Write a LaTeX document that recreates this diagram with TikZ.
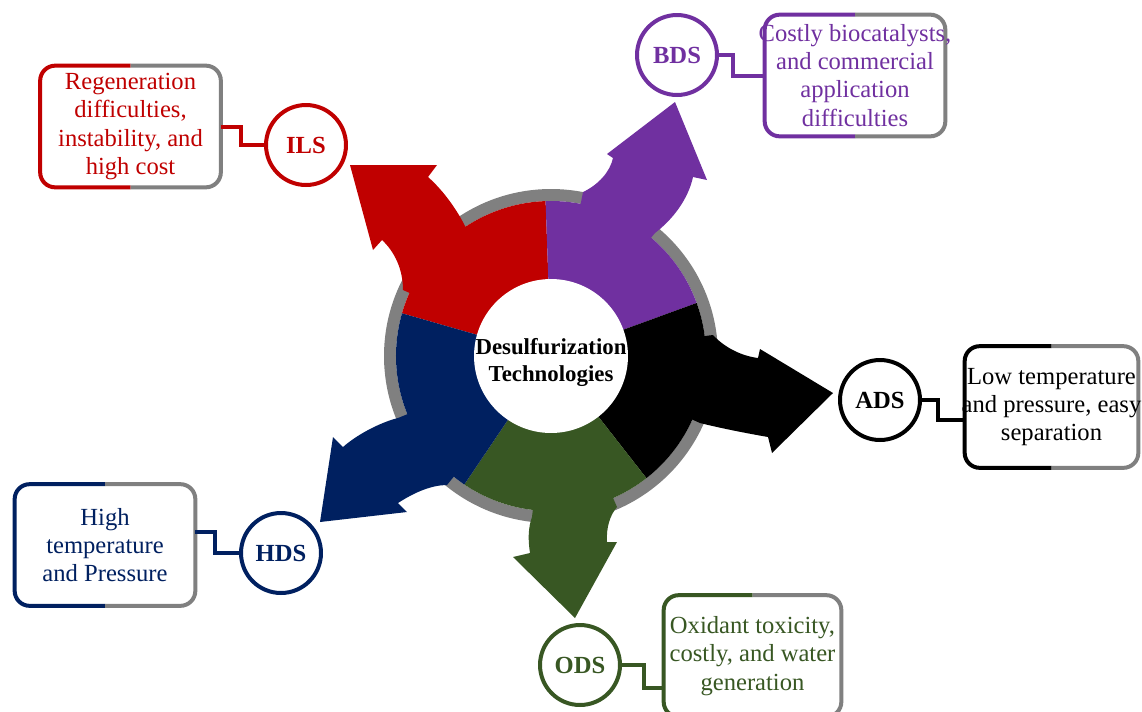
\documentclass[tikz,border=0pt]{standalone}
\usepackage{fontspec}
\setmainfont{Liberation Serif}

\definecolor{ilsred}{RGB}{192,0,0}
\definecolor{bdspurple}{RGB}{112,48,160}
\definecolor{adsblack}{RGB}{0,0,0}
\definecolor{odsgreen}{RGB}{56,87,35}
\definecolor{hdsnavy}{RGB}{0,32,96}
\definecolor{ringgray}{RGB}{128,128,128}

% two coloured halves of a note box
\newcommand{\notebox}[2]{%
  \draw[line width=0.08cm, rounded corners=0.3cm, #2] (#1.north) -- (#1.north west) -- (#1.south west) -- (#1.south);
  \draw[line width=0.08cm, rounded corners=0.3cm, ringgray] (#1.north) -- (#1.north east) -- (#1.south east) -- (#1.south);}

\begin{document}
\begin{tikzpicture}[x=0.02cm, y=0.02cm,
    tech/.style={circle, draw=#1, line width=0.08cm, fill=white, text=#1, minimum size=1.6cm, inner sep=0pt, font=\fontsize{14}{16}\selectfont\bfseries},
    note/.style={fill=white, minimum width=3.6cm, minimum height=2.42cm, inner sep=0pt},
    notetext/.style={text=#1, align=center, inner sep=0pt, font=\fontsize{14}{16}\selectfont},
    link/.style={draw=#1, line width=0.08cm},
    hub/.style={circle, fill=white, minimum size=3.08cm, inner sep=0pt},
    hubtext/.style={align=center, inner sep=0pt, font=\fontsize{13}{15.5}\selectfont\bfseries}]

        \clip (0,0) rectangle (1142,-711);
        \coordinate (C) at (551,-356);

        % Ring
        \draw[ringgray, line width=0.24cm] (C) circle[radius=161];
        \foreach \a/\col in {92/ilsred, 20/bdspurple, -52/adsblack, -124/odsgreen, 164/hdsnavy}
            \fill[\col] (C) -- ++(\a:155) arc[start angle=\a, end angle=\a+72, radius=155] -- cycle;

        % Arrows
        \fill[ilsred] (C) -- (465,-226) .. controls (458,-212) and (445,-192) .. (428,-177) -- (437,-165) -- (350,-165)
            -- (373,-250) -- (382,-240) .. controls (395,-252) and (403,-270) .. (403,-290) -- cycle;
        \fill[bdspurple] (C) -- (583,-192) .. controls (598,-185) and (610,-172) .. (613,-158) -- (607,-154) -- (675,-102)
            -- (707,-180) -- (693,-177) .. controls (688,-200) and (672,-220) .. (655,-233) -- cycle;
        \fill[adsblack] (C) -- (713,-335) .. controls (725,-348) and (742,-356) .. (758,-358) -- (760,-349) -- (833,-393)
            -- (772,-453) -- (768,-437) .. controls (745,-433) and (720,-428) .. (700,-423) -- cycle;
        \fill[odsgreen] (C) -- (617,-507) .. controls (610,-515) and (606,-528) .. (607,-542) -- (617,-542) -- (575,-618)
            -- (513,-557) -- (530,-553) .. controls (528,-540) and (528,-528) .. (532,-517) -- cycle;
        \fill[hdsnavy] (C) -- (398,-418) .. controls (385,-421) and (360,-432) .. (343,-447) -- (333,-437) -- (320,-522)
            -- (407,-512) -- (398,-503) .. controls (415,-492) and (432,-485) .. (447,-485) -- cycle;

        % Hub
        \node[hub] (hub) at (C) {};
        \node[hubtext] (hubtext) at ([yshift=-0.13cm]hub) {Desulfurization\\Technologies};

        % ILS
        \node[tech=ilsred] (ils) at (306,-145) {ILS};
        \node[note] (ilsbox) at (130.5,-126.5) {};
        \notebox{ilsbox}{ilsred}
        \node[notetext=ilsred] (ilstext) at (ilsbox) {Regeneration\\difficulties,\\instability, and\\high cost};
        \draw[link=ilsred] (ilsbox.east) -- ++(20,0) |- (ils.west);

        % BDS
        \node[tech=bdspurple] (bds) at (677,-55) {BDS};
        \node[note] (bdsbox) at (855,-75.5) {};
        \notebox{bdsbox}{bdspurple}
        \node[notetext=bdspurple] (bdstext) at (bdsbox) {Costly biocatalysts,\\and commercial\\application\\difficulties};
        \draw[link=bdspurple] (bds.east) -- ++(14,0) |- (bdsbox.west);

        % ADS
        \node[tech=adsblack] (ads) at (880,-400) {ADS};
        \node[note, minimum width=3.46cm] (adsbox) at (1051.5,-407) {};
        \notebox{adsbox}{adsblack}
        \node[notetext=adsblack] (adstext) at (adsbox) {Low temperature\\and pressure, easy\\separation};
        \draw[link=adsblack] (ads.east) -- ++(16,0) |- ([yshift=-0.26cm]adsbox.west);

        % HDS
        \node[tech=hdsnavy] (hds) at (281,-553) {HDS};
        \node[note] (hdsbox) at (105,-545) {};
        \notebox{hdsbox}{hdsnavy}
        \node[notetext=hdsnavy] (hdstext) at (hdsbox) {High\\temperature\\and Pressure};
        \draw[link=hdsnavy] ([yshift=0.26cm]hdsbox.east) -- ++(20,0) |- (hds.west);

        % ODS
        \node[tech=odsgreen] (ods) at (580,-665) {ODS};
        \node[note, minimum width=3.54cm] (odsbox) at (752.5,-656) {};
        \notebox{odsbox}{odsgreen}
        \node[notetext=odsgreen] (odstext) at (odsbox) {Oxidant toxicity,\\costly, and water\\generation};
        \draw[link=odsgreen] (ods.east) -- ++(22,0) |- ([yshift=-0.64cm]odsbox.west);

    \end{tikzpicture}
\end{document}
